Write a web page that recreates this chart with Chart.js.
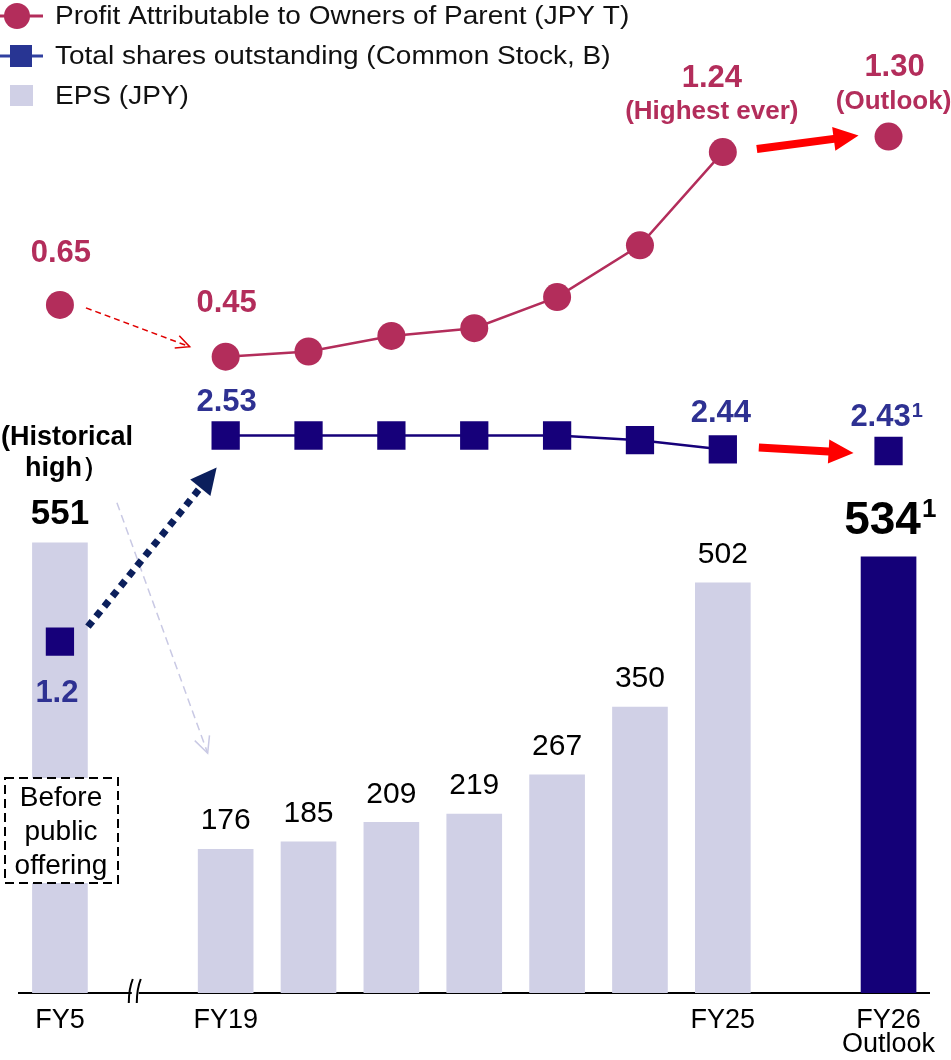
<!DOCTYPE html>
<html>
<head>
<meta charset="utf-8">
<script src="https://cdn.jsdelivr.net/npm/chart.js@4.4.1/dist/chart.umd.min.js"></script>
<style>
  html, body { margin: 0; padding: 0; background: #fff; }
  #wrap { width: 951px; height: 1060px; }
</style>
</head>
<body>
<div id="wrap"><canvas id="epsChart" width="951" height="1060"></canvas></div>
<script>
// Data (gap slots make the axis breaks)
const categories = ['FY5', 'gap1', 'FY19', 'FY20', 'FY21', 'FY22', 'FY23', 'FY24', 'FY25', 'gap2', 'FY26'];
const tickLabels = ['FY5', '', 'FY19', '', '', '', '', '', 'FY25', '', ['FY26', 'Outlook']];
const epsValues = [551, null, 176, 185, 209, 219, 267, 350, 502, null, 534];
const profitValues = [0.65, null, 0.45, 0.47, 0.53, 0.56, 0.68, 0.88, 1.24, null, 1.30];
const sharesValues = [1.2, null, 2.53, 2.53, 2.53, 2.53, 2.53, 2.50, 2.44, null, 2.43];
const seriesNames = ['Profit Attributable to Owners of Parent (JPY T)', 'Total shares outstanding (Common Stock, B)', 'EPS (JPY)'];

const FONT = '"Liberation Sans", Arial, sans-serif';
const PROFIT = '#B32D5B';
const SHARES = '#16007A';
const SHARES_TEXT = '#2E3192';
const EPS_LIGHT = '#D0D0E6';
const EPS_DARK = '#140078';

function drawText(ctx, str, x, y, size, color, bold, align) {
    ctx.font = (bold ? 'bold ' : '') + size + 'px ' + FONT;
    ctx.fillStyle = color;
    ctx.textAlign = align || 'center';
    ctx.textBaseline = 'middle';
    ctx.fillText(str, x, y);
}

// thick filled arrow (red ones)
function blockArrow(ctx, x1, y1, x2, y2, shaft, headW, headL, color) {
    const ang = Math.atan2(y2 - y1, x2 - x1);
    const len = Math.hypot(x2 - x1, y2 - y1);
    ctx.save();
    ctx.translate(x1, y1);
    ctx.rotate(ang);
    ctx.beginPath();
    ctx.moveTo(0, -shaft / 2);
    ctx.lineTo(len - headL, -shaft / 2);
    ctx.lineTo(len - headL, -headW / 2);
    ctx.lineTo(len, 0);
    ctx.lineTo(len - headL, headW / 2);
    ctx.lineTo(len - headL, shaft / 2);
    ctx.lineTo(0, shaft / 2);
    ctx.closePath();
    ctx.fillStyle = color;
    ctx.fill();
    ctx.restore();
}

// thin dashed arrow with open head
function dashedArrow(ctx, x1, y1, x2, y2, color, width, dash, headL) {
    const a = Math.atan2(y2 - y1, x2 - x1);
    ctx.save();
    ctx.strokeStyle = color;
    ctx.lineWidth = width;
    ctx.setLineDash(dash);
    ctx.beginPath();
    ctx.moveTo(x1, y1);
    ctx.lineTo(x2, y2);
    ctx.stroke();
    ctx.setLineDash([]);
    ctx.beginPath();
    ctx.moveTo(x2 - headL * Math.cos(a - 0.45), y2 - headL * Math.sin(a - 0.45));
    ctx.lineTo(x2, y2);
    ctx.lineTo(x2 - headL * Math.cos(a + 0.45), y2 - headL * Math.sin(a + 0.45));
    ctx.stroke();
    ctx.restore();
}

// dotted navy arrow with filled head
function dottedArrow(ctx, x1, y1, x2, y2, color) {
    const a = Math.atan2(y2 - y1, x2 - x1);
    const headL = 26, headW = 26;
    const bx = x2 - headL * Math.cos(a), by = y2 - headL * Math.sin(a);
    ctx.save();
    ctx.strokeStyle = color;
    ctx.lineWidth = 7;
    ctx.setLineDash([7, 6]);
    ctx.beginPath();
    ctx.moveTo(x1, y1);
    ctx.lineTo(bx, by);
    ctx.stroke();
    ctx.setLineDash([]);
    ctx.fillStyle = color;
    ctx.beginPath();
    ctx.moveTo(x2, y2);
    ctx.lineTo(bx + headW / 2 * Math.sin(a), by - headW / 2 * Math.cos(a));
    ctx.lineTo(bx - headW / 2 * Math.sin(a), by + headW / 2 * Math.cos(a));
    ctx.closePath();
    ctx.fill();
    ctx.restore();
}

const annotationPlugin = {
    id: 'annotations',
    afterDatasetsDraw(chart) {
        const ctx = chart.ctx;
        const pp = chart.getDatasetMeta(0).data;
        const sp = chart.getDatasetMeta(1).data;
        const bars = chart.getDatasetMeta(2).data;
        const ix = i => chart.scales.x.getPixelForValue(i);

        // arrows
        dashedArrow(ctx, bars[0].x + 57, bars[0].y - 40, bars[2].x - 18, bars[2].y - 96, '#C9C9E4', 1.5, [8, 5], 18);
        dottedArrow(ctx, sp[0].x + 28, sp[0].y - 15, sp[2].x - 9, sp[2].y + 32, '#0B1F5C');
        dashedArrow(ctx, pp[0].x + 26, pp[0].y + 3, pp[2].x - 36, pp[2].y - 10, '#E00000', 1.5, [6, 4], 15);
        blockArrow(ctx, pp[8].x + 34, pp[8].y - 3, pp[10].x - 30, pp[10].y - 1, 8, 24, 25, '#FF0000');
        blockArrow(ctx, sp[8].x + 36, sp[8].y - 2, sp[10].x - 35, sp[10].y + 2, 8, 24, 25, '#FF0000');

        // bar labels
        epsValues.forEach((v, i) => {
            if (v === null) return;
            const b = bars[i];
            if (i === 0) {
                drawText(ctx, String(v), b.x, b.y - 28, 35, '#000', true);
            } else if (i === epsValues.length - 1) {
                ctx.font = 'bold 46px ' + FONT;
                const w = ctx.measureText(String(v)).width;
                const cx = b.x - 6;
                drawText(ctx, String(v), cx, b.y - 35, 46, '#000', true);
                drawText(ctx, '1', cx + w / 2 + 1, b.y - 47, 26, '#000', true, 'left');
            } else {
                drawText(ctx, String(v), b.x, b.y - 28, 30, '#000', false);
            }
        });

        // profit labels
        drawText(ctx, profitValues[0].toFixed(2), pp[0].x + 1, pp[0].y - 51, 31, PROFIT, true);
        drawText(ctx, profitValues[2].toFixed(2), pp[2].x + 1, pp[2].y - 53, 31, PROFIT, true);
        drawText(ctx, profitValues[8].toFixed(2), pp[8].x - 11, pp[8].y - 74, 31, PROFIT, true);
        drawText(ctx, '(Highest ever)', pp[8].x - 11, pp[8].y - 40, 26, PROFIT, true);
        drawText(ctx, profitValues[10].toFixed(2), pp[10].x + 6, pp[10].y - 69, 31, PROFIT, true);
        drawText(ctx, '(Outlook)', pp[10].x + 5, pp[10].y - 35, 26, PROFIT, true);

        // shares labels
        drawText(ctx, sharesValues[0].toFixed(1), sp[0].x - 3, sp[0].y + 52, 31, SHARES_TEXT, true);
        drawText(ctx, sharesValues[2].toFixed(2), sp[2].x + 1, sp[2].y - 33, 31, SHARES_TEXT, true);
        drawText(ctx, sharesValues[8].toFixed(2), sp[8].x - 2, sp[8].y - 36, 31, SHARES_TEXT, true);
        ctx.font = 'bold 31px ' + FONT;
        const w43 = ctx.measureText(sharesValues[10].toFixed(2)).width;
        drawText(ctx, sharesValues[10].toFixed(2), sp[10].x - 8, sp[10].y - 34, 31, SHARES_TEXT, true);
        drawText(ctx, '1', sp[10].x - 8 + w43 / 2 + 1, sp[10].y - 40, 20, SHARES_TEXT, true, 'left');

        // historical high note
        drawText(ctx, '(Historical', bars[0].x + 7, bars[0].y - 105, 27, '#000', true);
        drawText(ctx, 'high）', bars[0].x + 7, bars[0].y - 74, 27, '#000', true);

        // "Before public offering" box
        ctx.save();
        ctx.fillStyle = '#fff';
        ctx.fillRect(5, 778, 113, 105);
        ctx.strokeStyle = '#000';
        ctx.lineWidth = 2;
        ctx.setLineDash([9, 5]);
        ctx.strokeRect(5, 778, 113, 105);
        ctx.restore();
        drawText(ctx, 'Before', 61, 798, 28, '#000', false);
        drawText(ctx, 'public', 61, 832, 28, '#000', false);
        drawText(ctx, 'offering', 61, 866, 28, '#000', false);

        // axis break mark
        const bx = ix(1) - 8, ay = chart.chartArea.bottom;
        ctx.save();
        ctx.fillStyle = '#fff';
        ctx.fillRect(bx - 3, ay - 3, 7, 6);
        ctx.strokeStyle = '#000';
        ctx.lineWidth = 2;
        ctx.beginPath();
        ctx.moveTo(bx - 6, ay + 10);
        ctx.quadraticCurveTo(bx - 6, ay - 4, bx - 2, ay - 14);
        ctx.moveTo(bx + 2, ay + 10);
        ctx.quadraticCurveTo(bx + 2, ay - 4, bx + 6, ay - 14);
        ctx.stroke();
        ctx.restore();
    },
    afterDraw(chart) {
        const ctx = chart.ctx;
        // legend
        ctx.save();
        ctx.strokeStyle = PROFIT;
        ctx.lineWidth = 3;
        ctx.beginPath(); ctx.moveTo(0, 16); ctx.lineTo(43, 16); ctx.stroke();
        ctx.fillStyle = PROFIT;
        ctx.beginPath(); ctx.arc(17, 16, 13, 0, Math.PI * 2); ctx.fill();
        ctx.strokeStyle = '#3040A0';
        ctx.beginPath(); ctx.moveTo(0, 56); ctx.lineTo(43, 56); ctx.stroke();
        ctx.fillStyle = '#283593';
        ctx.fillRect(10, 45, 22, 22);
        ctx.fillStyle = EPS_LIGHT;
        ctx.fillRect(10, 85, 23, 21);
        const rows = [17, 57, 97];
        seriesNames.forEach((name, i) => {
            ctx.save();
            ctx.translate(55, rows[i]);
            ctx.scale(1.12, 1);
            drawText(ctx, name, 0, 0, 25, '#111', false, 'left');
            ctx.restore();
        });
        ctx.restore();
    }
};

function renderChart() {
    const ctx = document.getElementById('epsChart').getContext('2d');
    new Chart(ctx, {
        type: 'bar',
        data: {
            labels: categories,
            datasets: [
                {
                    type: 'line',
                    label: seriesNames[0],
                    data: profitValues,
                    yAxisID: 'yProfit',
                    borderColor: PROFIT,
                    borderWidth: 2.5,
                    pointRadius: 14,
                    pointBackgroundColor: PROFIT,
                    pointBorderWidth: 0,
                    spanGaps: false
                },
                {
                    type: 'line',
                    label: seriesNames[1],
                    data: sharesValues,
                    yAxisID: 'yShares',
                    borderColor: SHARES,
                    borderWidth: 2.5,
                    pointStyle: 'rect',
                    pointRadius: 20,
                    pointBackgroundColor: SHARES,
                    pointBorderWidth: 0,
                    spanGaps: false
                },
                {
                    label: seriesNames[2],
                    data: epsValues,
                    yAxisID: 'y',
                    backgroundColor: categories.map(c => c === 'FY26' ? EPS_DARK : EPS_LIGHT),
                    barThickness: 55
                }
            ]
        },
        options: {
            responsive: false,
            animation: false,
            layout: { autoPadding: false, padding: { left: 18.5, right: 20.5, top: 0, bottom: 0 } },
            plugins: { legend: { display: false }, tooltip: { enabled: false } },
            scales: {
                x: {
                    grid: { display: false, drawTicks: false },
                    border: { display: true, color: '#000', width: 2 },
                    ticks: {
                        autoSkip: false,
                        maxRotation: 0,
                        padding: 15,
                        color: '#000',
                        font: { family: FONT, size: 27, lineHeight: 0.9 },
                        callback: (val, i) => tickLabels[i]
                    },
                    afterFit: scale => { scale.height = 67; }
                },
                y: { display: false, min: 0, max: 1215.4 },
                yProfit: { display: false, min: -2.0068, max: 1.8272 },
                yShares: { display: false, min: -1.0668, max: 5.3397 }
            }
        },
        plugins: [annotationPlugin]
    });
}

document.addEventListener('DOMContentLoaded', renderChart);
</script>
</body>
</html>
